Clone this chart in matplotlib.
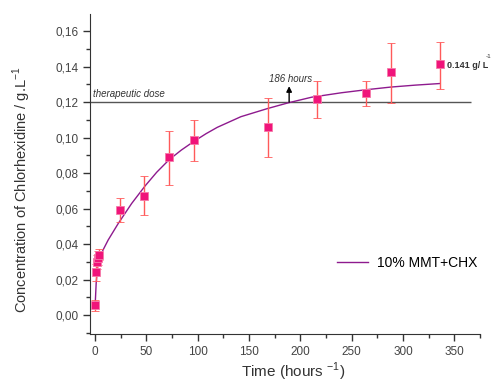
import matplotlib
matplotlib.use("Agg")
import matplotlib.pyplot as plt
import matplotlib.ticker as mticker

plt.rcParams['font.family'] = ['Liberation Sans', 'DejaVu Sans']
plt.rcParams['mathtext.fontset'] = 'custom'
plt.rcParams['mathtext.rm'] = 'Liberation Sans'
plt.rcParams['mathtext.bf'] = 'Liberation Sans:bold'

# measured release data
time_h = [0, 1, 2, 3, 4, 24, 48, 72, 96, 168, 216, 264, 288, 336]
conc = [0.0056, 0.024, 0.030, 0.032, 0.034, 0.0592, 0.0672, 0.0888, 0.0988,
        0.1059, 0.1217, 0.1249, 0.1371, 0.1416]
err_low = [0.0036, 0.005, 0.004, 0.004, 0.003, 0.007, 0.011, 0.0155, 0.0122,
           0.0171, 0.0107, 0.0068, 0.0173, 0.0141]
err_high = [0.0026, 0.005, 0.004, 0.004, 0.003, 0.0068, 0.011, 0.0149, 0.0112,
            0.0167, 0.0100, 0.0068, 0.0164, 0.0124]

# fitted curve
fit_t = [0, 1, 2, 3, 4.6, 8, 12.7, 22.5, 35.6, 48.7, 60, 72, 84, 96, 108, 119,
         142, 168, 188, 211, 240, 264, 288, 312, 336]
fit_y = [0.0055, 0.018, 0.025, 0.030, 0.033, 0.037, 0.0423, 0.0516, 0.0629,
         0.0728, 0.0805, 0.0875, 0.093, 0.0978, 0.1022, 0.1058, 0.1118,
         0.1164, 0.1196, 0.1228, 0.1253, 0.1270, 0.1285, 0.1296, 0.1305]

therapeutic = 0.12

fig = plt.figure(figsize=(4.99, 3.83), dpi=100)
ax = fig.add_axes([0.1804, 0.128, 0.7816, 0.835])

ax.plot(fit_t, fit_y, color='#8e1a8e', lw=1.0, label='10% MMT+CHX', zorder=3)
ax.errorbar(time_h, conc, yerr=[err_low, err_high], fmt='s', color='#f0147a',
            ms=5.5, mec='#f57aa8', mew=0.6, ecolor='#ff5a5a', elinewidth=1.0,
            capsize=3, capthick=1.0, zorder=4)

ax.hlines(therapeutic, -5, 366, color='#555555', lw=1.0, zorder=2)
ax.text(-2, 0.1215, 'therapeutic dose', fontsize=7, style='italic',
        color='#333333', va='bottom', ha='left')

ax.annotate('', xy=(189, 0.129), xytext=(189, 0.12),
            arrowprops=dict(arrowstyle='-|>', color='black', lw=1.0,
                            mutation_scale=8, shrinkA=0, shrinkB=0))
ax.text(190, 0.1305, '186 hours', fontsize=7, style='italic',
        color='#333333', ha='center', va='bottom')

ax.text(343, 0.1405, '0.141 g/ L', fontsize=6.5, fontweight='bold',
        color='#333333', ha='left', va='center')
ax.text(381, 0.1455, '-1', fontsize=4.5, color='#333333', ha='left', va='center',
        clip_on=False)

ax.set_xlim(-5, 375)
ax.set_ylim(-0.0107, 0.1696)
ax.xaxis.set_major_locator(mticker.MultipleLocator(50))
ax.xaxis.set_minor_locator(mticker.MultipleLocator(25))
ax.yaxis.set_major_locator(mticker.MultipleLocator(0.02))
ax.yaxis.set_minor_locator(mticker.MultipleLocator(0.01))
ax.yaxis.set_major_formatter(mticker.FuncFormatter(lambda v, p: f"{v:.2f}".replace('.', ',')))

for s in ['top', 'right']:
    ax.spines[s].set_visible(False)
for s in ['left', 'bottom']:
    ax.spines[s].set_color('#333333')
ax.tick_params(which='major', direction='out', length=5, width=1,
               colors='#333333', labelsize=8.5, labelcolor='#444444')
ax.tick_params(which='minor', direction='out', length=3, width=1, colors='#333333')

ax.set_xlabel('Time (hours $^{-1}$)', fontsize=11, color='#333333')
ax.set_ylabel('Concentration of Chlorhexidine / g.L$^{-1}$', fontsize=10.5,
              color='#333333')
ax.yaxis.set_label_coords(-0.145, 0.45)
ax.xaxis.set_label_coords(0.52, -0.085)

ax.legend(loc='center left', bbox_to_anchor=(0.6, 0.223), frameon=False,
          fontsize=10, handlelength=2.3, handletextpad=0.6)

fig.savefig('out.png', dpi=100)
